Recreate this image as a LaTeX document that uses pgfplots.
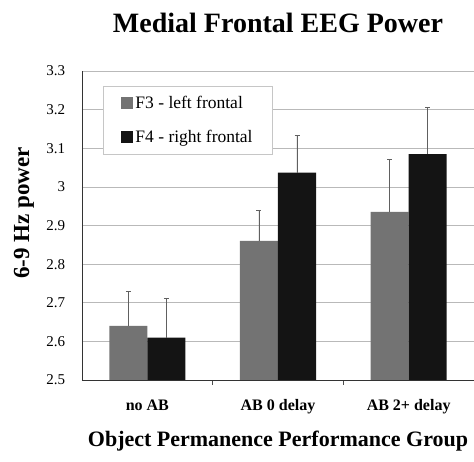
\documentclass[border=0pt]{standalone}
\usepackage{fontspec}
\setmainfont{Liberation Serif}
\usepackage{pgfplots}
\pgfplotsset{compat=1.18}
\definecolor{fthree}{gray}{0.45}
\definecolor{ffour}{gray}{0.08}
\begin{document}
\begin{tikzpicture}
\begin{axis}[
  scale only axis, width=392pt, height=309pt,
  xmin=-0.5, xmax=2.5, ymin=2.5, ymax=3.3,
  ybar=0pt, bar width=38pt,
  axis x line*=bottom, axis y line*=left,
  axis line style={gray!40!black, line width=0.8pt},
  ytick={2.5,2.6,2.7,2.8,2.9,3.0,3.1,3.2,3.3},
  yticklabels={2.5,2.6,2.7,2.8,2.9,3,3.1,3.2,3.3},
  /pgf/number format/assume math mode=true,
  major y tick style={draw=none},
  yticklabel style={font=\fontsize{15}{15}\selectfont, xshift=-9pt},
  ymajorgrids, grid style={gray!55, line width=0.6pt},
  xtick={0,1,2}, xticklabels={no AB, AB 0 delay, AB 2+ delay},
  major x tick style={draw=none},
  minor xtick={0.5,1.5}, tick align=outside, minor tick length=5pt,
  minor x tick style={gray!60!black, line width=0.6pt},
  xticklabel style={font=\bfseries\fontsize{16}{16}\selectfont, yshift=-12pt},
  title={Medial Frontal EEG Power},
  title style={font=\bfseries\fontsize{28}{28}\selectfont, at={(0.5,1)}, anchor=center, yshift=42pt},
  xlabel={Object Permanence Performance Group},
  xlabel style={font=\bfseries\fontsize{22}{22}\selectfont, at={(axis description cs:0.5,0)}, anchor=center, yshift=-61pt},
  ylabel={6-9 Hz power},
  ylabel style={font=\bfseries\fontsize{23}{23}\selectfont, at={(axis description cs:-0.148,0.54)}, anchor=center},
  legend style={at={(axis description cs:0.054,0.951)}, anchor=north west, draw=gray!45, line width=0.6pt,
    font=\fontsize{17.5}{17.5}\selectfont, row sep=16pt, inner xsep=18pt, inner ysep=8pt, cells={anchor=west}},
  legend image code/.code={\fill[#1] (0pt,-6pt) rectangle (12pt,6pt);},
]
\coordinate (O) at (rel axis cs:0,0);
\addplot+[ybar, fill=fthree, draw=none,
  error bars/.cd, y dir=plus, y explicit,
  error bar style={gray!75!black, line width=0.8pt},
  error mark options={rotate=90, mark size=2.5pt, gray!75!black, line width=0.8pt}]
  coordinates {(0,2.64) +- (0,0.09) (1,2.86) +- (0,0.08) (2,2.935) +- (0,0.135)};
\addplot+[ybar, fill=ffour, draw=none,
  error bars/.cd, y dir=plus, y explicit,
  error bar style={gray!75!black, line width=0.8pt},
  error mark options={rotate=90, mark size=2.5pt, gray!75!black, line width=0.8pt}]
  coordinates {(0,2.61) +- (0,0.10) (1,3.037) +- (0,0.095) (2,3.085) +- (0,0.12)};
\legend{F3 - left frontal, F4 - right frontal}
\end{axis}
\pgfresetboundingbox
\path[use as bounding box] ([shift={(-82pt,-82pt)}]O) rectangle ([shift={(392pt,380pt)}]O);
\end{tikzpicture}
\end{document}
